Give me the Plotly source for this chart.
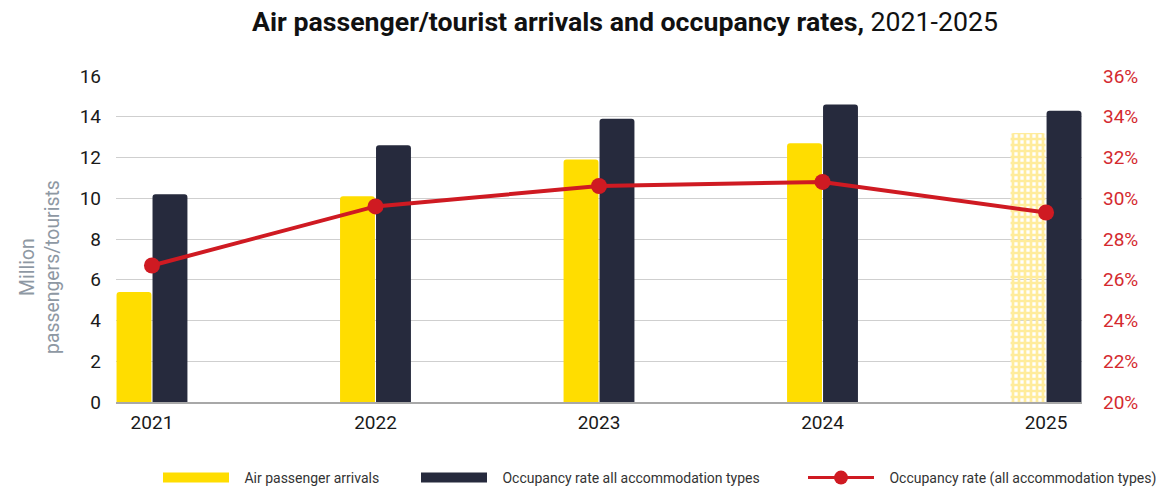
import plotly.graph_objects as go

# Years on the category axis
years = ["2021", "2022", "2023", "2024", "2025"]

# Million passengers / tourists
air_passenger_arrivals = [5.4, 10.1, 11.9, 12.7, 13.2]
occupancy_all_types = [10.2, 12.6, 13.9, 14.6, 14.3]

# Occupancy rate (share)
occupancy_rate = [0.267, 0.296, 0.306, 0.308, 0.293]

# 2025 arrivals are shown with a checked fill
arrival_patterns = ["", "", "", "", "+"]

YELLOW = "#FFDD00"
NAVY = "#262A3D"
RED = "#CF1A22"
FONT = "Roboto"
PAD = "\u00a0\u00a0\u00a0"

fig = go.Figure()

fig.add_trace(go.Bar(
    x=years, y=air_passenger_arrivals, name="Air passenger arrivals",
    marker=dict(
        color=[YELLOW, YELLOW, YELLOW, YELLOW, "#FFEC9C"],
        line=dict(width=0),
        pattern=dict(shape=arrival_patterns, fgcolor="#FFD02E", bgcolor="#FFF0B0",
                     fgopacity=1, size=6, solidity=0.7, fillmode="replace"),
    ),
    showlegend=False, yaxis="y",
))
fig.add_trace(go.Bar(
    x=years, y=occupancy_all_types, name="Occupancy rate all accommodation types",
    marker=dict(color=NAVY, line=dict(width=0)),
    showlegend=False, yaxis="y",
))
fig.add_trace(go.Scatter(
    x=years, y=occupancy_rate, name="Occupancy rate (all accommodation types)",
    mode="lines+markers", line=dict(color=RED, width=4),
    marker=dict(color=RED, size=16),
    yaxis="y2", showlegend=False,
))

# Legend entries
fig.add_trace(go.Scatter(x=[None], y=[None], mode="lines", name=PAD + "Air passenger arrivals",
                         line=dict(color=YELLOW, width=14), legend="legend"))
fig.add_trace(go.Scatter(x=[None], y=[None], mode="lines",
                         name=PAD + "Occupancy rate all accommodation types",
                         line=dict(color=NAVY, width=14), legend="legend2"))
fig.add_trace(go.Scatter(x=[None], y=[None], mode="lines+markers",
                         name=PAD + "Occupancy rate (all accommodation types)",
                         line=dict(color=RED, width=3), marker=dict(color=RED, size=14),
                         legend="legend3"))

L, R, T, B = 116, 80, 76, 87
W = 1162 - L - R
H = 489 - T - B

def px_x(px):
    return (px - L) / W

def px_y(py):
    return (489 - B - py) / H

legend_common = dict(orientation="h", yref="container", yanchor="middle", y=1 - 478 / 489,
                     xanchor="left",
                     font=dict(family=FONT, size=14, color="#333333"),
                     itemwidth=66, bgcolor="rgba(0,0,0,0)")

fig.update_layout(
    width=1162, height=489,
    margin=dict(l=L, r=R, t=T, b=B),
    paper_bgcolor="white", plot_bgcolor="white",
    font=dict(family=FONT, color="#1a1a1a"),
    barmode="group", bargap=0.678, bargroupgap=0.03,
    barcornerradius=3,
    title=dict(
        text="<b>Air passenger/tourist arrivals and occupancy rates,</b> 2021-2025",
        x=625 / 1162, xanchor="center", xref="container",
        y=1 - 22 / 489, yanchor="middle", yref="container",
        font=dict(family=FONT, size=26.7, color="#111111"),
    ),
    xaxis=dict(
        type="category", range=[-0.161, 4.161],
        showgrid=False, showline=True, linecolor="#a8a8a8", linewidth=2,
        ticks="", tickfont=dict(family=FONT, size=19, color="#1a1a1a"),
        ticklabelstandoff=2,
    ),
    yaxis=dict(
        range=[0, 16], dtick=2, showgrid=True, gridcolor="#cfcfcf", gridwidth=1,
        zeroline=False, ticks="", tickfont=dict(family=FONT, size=19, color="#1a1a1a"),
        ticklabelstandoff=14,
    ),
    yaxis2=dict(
        overlaying="y", side="right", range=[0.20, 0.36], dtick=0.02,
        tickformat=".0%", showgrid=False, zeroline=False, ticks="",
        tickfont=dict(family=FONT, size=19, color="#D42A2F"),
        ticklabelstandoff=20,
    ),
    legend=dict(**legend_common, x=px_x(158)),
    legend2=dict(**legend_common, x=px_x(416)),
    legend3=dict(**legend_common, x=px_x(807)),
    annotations=[dict(
        text="Million<br>passengers/tourists", textangle=-90,
        xref="paper", yref="paper", x=px_x(40), y=px_y(267),
        xanchor="center", yanchor="middle", showarrow=False,
        font=dict(family=FONT, size=19.4, color="#8E98A3"),
    )],
)

fig.write_html("out.html")
